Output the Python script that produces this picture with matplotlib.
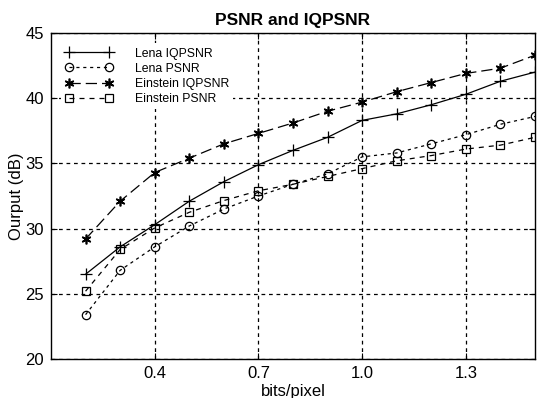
import matplotlib
matplotlib.use("Agg")
import matplotlib.pyplot as plt

plt.rcParams['font.family'] = ['Liberation Sans', 'DejaVu Sans']

bits = [0.2, 0.3, 0.4, 0.5, 0.6, 0.7, 0.8, 0.9, 1.0, 1.1, 1.2, 1.3, 1.4, 1.5]
lena_iqpsnr = [26.5, 28.6, 30.3, 32.1, 33.6, 34.9, 36.0, 37.0, 38.3, 38.8, 39.5, 40.3, 41.3, 42.0]
lena_psnr = [23.4, 26.8, 28.6, 30.2, 31.5, 32.5, 33.4, 34.2, 35.5, 35.8, 36.5, 37.2, 38.0, 38.6]
einstein_iqpsnr = [29.2, 32.1, 34.3, 35.4, 36.5, 37.3, 38.1, 39.0, 39.7, 40.5, 41.2, 41.9, 42.3, 43.3]
einstein_psnr = [25.2, 28.4, 30.05, 31.25, 32.15, 32.9, 33.4, 34.0, 34.6, 35.2, 35.6, 36.1, 36.4, 37.0]
xticks = [0.4, 0.7, 1.0, 1.3]
yticks = [20, 25, 30, 35, 40, 45]

fig = plt.figure(figsize=(5.39, 3.98), dpi=100)
ax = fig.add_axes([51/539, 1-359/398, (535-51)/539, (359-33)/398])

ax.plot(bits, lena_iqpsnr, color='black', linestyle='-', linewidth=0.9,
        marker='+', markersize=8, markeredgewidth=0.9, label='Lena IQPSNR')
ax.plot(bits, lena_psnr, color='black', linestyle=(0, (2.5, 3)), linewidth=0.9,
        marker='o', markersize=6, markerfacecolor='none', markeredgewidth=0.9, label='Lena PSNR')
ax.plot(bits, einstein_iqpsnr, color='black', linestyle=(0, (9, 4)), linewidth=0.9,
        marker=(6, 2, 0), markersize=7, markeredgewidth=1.2, label='Einstein IQPSNR')
ax.plot(bits, einstein_psnr, color='black', linestyle=(0, (4, 4)), linewidth=0.9,
        marker='s', markersize=6, markerfacecolor='none', markeredgewidth=0.9, label='Einstein PSNR')

ax.set_xlim(0.1, 1.5)
ax.set_ylim(20, 45)
ax.set_xticks(xticks)
ax.set_xticklabels(['0.4', '0.7', '1.0', '1.3'])
ax.set_yticks(yticks)
ax.tick_params(direction='in', labelsize=12, length=4, width=0.8, pad=5,
               top=True, right=True)
ax.grid(True, color='black', linestyle=(0, (3, 3)), linewidth=0.9)
for s in ax.spines.values():
    s.set_linewidth(1.0)

ax.set_title('PSNR and IQPSNR', fontsize=12.5, fontweight='bold', pad=6)
ax.set_xlabel('bits/pixel', fontsize=12, labelpad=2)
ax.set_ylabel('Ourput (dB)', fontsize=12, labelpad=1)

leg = ax.legend(loc='upper left', frameon=True, fancybox=False, edgecolor='none',
                facecolor='white', framealpha=1, numpoints=2, fontsize=8.8,
                handlelength=3.85, handletextpad=1.8, labelspacing=0.25,
                borderaxespad=0.85, borderpad=0.35)

fig.savefig('out.png', dpi=100)
